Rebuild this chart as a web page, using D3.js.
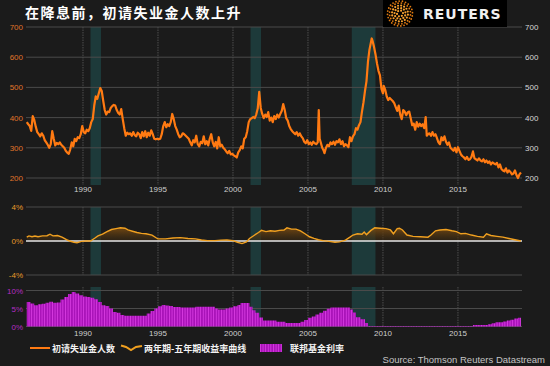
<!DOCTYPE html>
<html>
<head>
<meta charset="utf-8">
<script src="https://cdn.jsdelivr.net/npm/d3@7"></script>
<style>
  html, body { margin: 0; padding: 0; background: #1b1b1b; }
  svg { display: block; font-family: "Liberation Sans", Arial, sans-serif; }
</style>
</head>
<body>
<div id="chart"></div>
<script>
var width = 550,
  height = 366;

// initial jobless claims (thousands), [year, value]
var claims = [
  [1986.25,385],[1986.35,378],[1986.45,372],[1986.55,356],[1986.65,405],[1986.75,392],[1986.85,370],[1986.95,352],
  [1987.05,345],[1987.15,338],[1987.25,348],[1987.35,340],[1987.45,325],[1987.55,318],[1987.65,310],[1987.75,300],
  [1987.85,312],[1987.95,355],[1988.05,330],[1988.15,308],[1988.25,316],[1988.35,312],[1988.45,318],[1988.55,310],
  [1988.65,305],[1988.75,300],[1988.85,290],[1988.95,284],[1989.05,280],[1989.15,295],[1989.25,318],[1989.35,305],
  [1989.45,330],[1989.55,322],[1989.65,335],[1989.75,332],[1989.85,345],[1989.95,372],[1990.05,352],[1990.15,348],
  [1990.25,360],[1990.35,355],[1990.45,365],[1990.55,385],[1990.65,395],[1990.75,440],[1990.85,470],[1990.95,462],
  [1991.05,480],[1991.15,498],[1991.25,488],[1991.35,455],[1991.45,425],[1991.55,410],[1991.65,420],[1991.75,418],
  [1991.85,432],[1991.95,438],[1992.05,442],[1992.15,440],[1992.25,425],[1992.35,415],[1992.45,410],[1992.55,428],
  [1992.65,395],[1992.75,365],[1992.85,340],[1992.95,350],[1993.05,345],[1993.15,348],[1993.25,340],[1993.35,352],
  [1993.45,342],[1993.55,338],[1993.65,350],[1993.75,345],[1993.85,332],[1993.95,352],[1994.05,338],[1994.15,355],
  [1994.25,335],[1994.35,350],[1994.45,340],[1994.55,358],[1994.65,345],[1994.75,330],[1994.85,328],[1994.95,330],
  [1995.05,328],[1995.15,330],[1995.25,345],[1995.35,372],[1995.45,385],[1995.55,368],[1995.65,378],[1995.75,372],
  [1995.85,385],[1995.95,412],[1996.05,395],[1996.15,372],[1996.25,360],[1996.35,345],[1996.45,335],[1996.55,338],
  [1996.65,348],[1996.75,345],[1996.85,340],[1996.95,335],[1997.05,330],[1997.15,318],[1997.25,308],[1997.35,325],
  [1997.45,318],[1997.55,340],[1997.65,312],[1997.75,305],[1997.85,320],[1997.95,315],[1998.05,338],[1998.15,312],
  [1998.25,322],[1998.35,308],[1998.45,330],[1998.55,345],[1998.65,318],[1998.75,305],[1998.85,320],[1998.95,298],
  [1999.05,335],[1999.15,305],[1999.25,310],[1999.35,300],[1999.45,295],[1999.55,288],[1999.65,282],[1999.75,290],
  [1999.85,278],[1999.95,280],[2000.05,275],[2000.15,272],[2000.25,268],[2000.35,285],[2000.45,292],[2000.55,305],
  [2000.65,298],[2000.75,330],[2000.85,335],[2000.95,355],[2001.05,385],[2001.15,395],[2001.25,398],[2001.35,402],
  [2001.45,398],[2001.55,410],[2001.65,430],[2001.75,485],[2001.85,432],[2001.95,412],[2002.05,398],[2002.15,410],
  [2002.25,402],[2002.35,418],[2002.45,390],[2002.55,400],[2002.65,385],[2002.75,405],[2002.85,395],[2002.95,410],
  [2003.05,400],[2003.15,412],[2003.25,422],[2003.35,445],[2003.45,425],[2003.55,398],[2003.65,390],[2003.75,372],
  [2003.85,362],[2003.95,355],[2004.05,350],[2004.15,345],[2004.25,352],[2004.35,340],[2004.45,348],[2004.55,338],
  [2004.65,332],[2004.75,320],[2004.85,315],[2004.95,325],[2005.05,312],[2005.15,318],[2005.25,310],[2005.35,320],
  [2005.45,315],[2005.55,312],[2005.65,318],[2005.72,425],[2005.78,330],[2005.85,318],[2005.95,300],[2006.05,290],
  [2006.1,282],[2006.2,300],[2006.3,310],[2006.4,305],[2006.5,318],[2006.6,312],[2006.7,320],[2006.8,310],
  [2006.9,322],[2007.0,318],[2007.1,328],[2007.2,312],[2007.3,322],[2007.4,305],[2007.5,312],[2007.6,308],
  [2007.7,302],[2007.8,335],[2007.9,322],[2008.0,338],[2008.1,345],[2008.2,365],[2008.3,360],[2008.4,375],
  [2008.5,385],[2008.6,420],[2008.7,450],[2008.8,488],[2008.9,520],[2009.0,585],[2009.1,625],[2009.2,650],
  [2009.25,662],[2009.3,655],[2009.4,635],[2009.5,610],[2009.6,580],[2009.7,555],[2009.8,540],[2009.9,495],
  [2010.0,480],[2010.05,505],[2010.15,492],[2010.25,470],[2010.35,458],[2010.45,465],[2010.55,460],[2010.65,455],
  [2010.75,448],[2010.85,435],[2010.95,422],[2011.05,440],[2011.15,410],[2011.25,395],[2011.35,425],[2011.45,420],
  [2011.55,408],[2011.65,418],[2011.75,420],[2011.85,398],[2011.95,375],[2012.05,380],[2012.15,360],[2012.25,385],
  [2012.35,370],[2012.45,380],[2012.55,372],[2012.65,378],[2012.75,365],[2012.85,402],[2012.92,340],[2013.0,345],
  [2013.1,348],[2013.2,340],[2013.3,352],[2013.4,340],[2013.5,345],[2013.6,332],[2013.7,318],[2013.8,312],
  [2013.9,335],[2014.0,325],[2014.1,338],[2014.2,320],[2014.3,310],[2014.4,318],[2014.5,300],[2014.6,295],
  [2014.7,290],[2014.8,300],[2014.9,285],[2015.0,302],[2015.1,290],[2015.2,278],[2015.3,272],[2015.4,268],
  [2015.5,262],[2015.6,270],[2015.7,260],[2015.8,262],[2015.9,270],[2016.0,288],[2016.1,265],[2016.2,262],
  [2016.3,258],[2016.4,265],[2016.5,258],[2016.6,255],[2016.7,262],[2016.8,252],[2016.9,258],[2017.0,250],
  [2017.1,255],[2017.2,245],[2017.3,252],[2017.4,248],[2017.5,245],[2017.6,250],[2017.7,235],[2017.8,245],
  [2017.9,230],[2018.0,225],[2018.1,222],[2018.2,232],[2018.3,218],[2018.4,225],[2018.5,220],[2018.6,212],
  [2018.7,215],[2018.8,225],[2018.9,210],[2019.0,200],[2019.1,212],[2019.2,218]
];

// 2-year / 5-year yield curve, percent
var spread = [
  [1986.25,0.45],[1986.4,0.6],[1986.6,0.5],[1986.8,0.58],[1987.0,0.5],[1987.3,0.6],[1987.6,0.62],[1987.8,0.8],
  [1988.0,0.6],[1988.3,0.65],[1988.6,0.45],[1988.9,0.15],[1989.1,0.0],[1989.4,-0.15],[1989.6,-0.2],[1989.9,-0.05],
  [1990.2,0.0],[1990.5,0.0],[1990.8,0.35],[1991.0,0.6],[1991.3,0.8],[1991.6,1.1],[1991.9,1.35],[1992.2,1.45],
  [1992.5,1.55],[1992.8,1.5],[1993.0,1.3],[1993.3,1.15],[1993.6,1.0],[1993.9,0.9],[1994.2,0.85],[1994.6,0.7],
  [1994.9,0.35],[1995.0,0.25],[1995.5,0.25],[1996.0,0.35],[1996.5,0.4],[1997.0,0.3],[1997.5,0.25],[1997.9,0.12],
  [1998.3,0.05],[1998.8,0.05],[1999.2,0.1],[1999.6,0.12],[2000.0,0.05],[2000.3,-0.15],[2000.6,-0.3],[2000.9,-0.1],
  [2001.1,0.3],[2001.4,0.65],[2001.7,1.0],[2001.9,1.25],[2002.2,1.1],[2002.5,1.2],[2002.8,1.15],[2003.1,1.25],
  [2003.4,1.3],[2003.6,1.55],[2003.9,1.4],[2004.2,1.4],[2004.5,1.2],[2004.8,0.85],[2005.1,0.5],[2005.4,0.3],
  [2005.7,0.15],[2006.0,0.05],[2006.4,-0.05],[2006.8,-0.15],[2007.1,-0.1],[2007.5,0.1],[2007.8,0.45],[2008.0,0.7],
  [2008.3,0.85],[2008.6,0.8],[2008.75,1.05],[2008.9,0.75],[2009.2,1.25],[2009.45,1.55],[2009.8,1.5],[2010.2,1.45],
  [2010.5,1.3],[2010.7,0.85],[2010.95,1.45],[2011.1,1.5],[2011.3,1.3],[2011.6,0.7],[2012.0,0.55],[2012.5,0.5],
  [2013.0,0.45],[2013.2,0.7],[2013.5,1.2],[2013.8,1.3],[2014.2,1.35],[2014.6,1.2],[2014.9,1.1],[2015.2,0.85],
  [2015.5,0.9],[2015.9,0.7],[2016.3,0.55],[2016.7,0.45],[2016.9,0.85],[2017.2,0.65],[2017.6,0.55],[2018.0,0.45],
  [2018.4,0.3],[2018.8,0.15],[2019.2,0.0]
];

// fed funds rate, percent
var fedFunds = [
  [1986.25,6.8],[1986.5,6.4],[1986.75,5.9],[1987.0,6.2],[1987.25,6.3],[1987.5,6.6],[1987.75,6.9],[1988.0,6.6],
  [1988.25,6.7],[1988.5,7.5],[1988.75,8.2],[1989.0,9.0],[1989.25,9.6],[1989.5,9.2],[1989.75,8.7],[1990.0,8.3],
  [1990.25,8.2],[1990.5,8.0],[1990.75,7.6],[1991.0,6.8],[1991.25,5.9],[1991.5,5.7],[1991.75,5.0],[1992.0,4.0],
  [1992.25,3.8],[1992.5,3.2],[1992.75,3.0],[1993.5,3.0],[1994.0,3.0],[1994.25,3.6],[1994.5,4.3],[1994.75,5.0],
  [1995.0,5.6],[1995.25,6.0],[1995.5,5.8],[1995.75,5.7],[1996.0,5.4],[1996.5,5.3],[1997.0,5.3],[1997.5,5.5],
  [1998.0,5.5],[1998.5,5.5],[1998.8,5.0],[1999.0,4.7],[1999.5,5.0],[1999.75,5.3],[2000.0,5.6],[2000.3,6.0],
  [2000.5,6.5],[2000.9,6.5],[2001.1,5.5],[2001.3,4.5],[2001.5,3.8],[2001.75,2.5],[2002.0,1.7],[2002.5,1.7],
  [2002.9,1.3],[2003.5,1.0],[2004.0,1.0],[2004.5,1.3],[2004.75,1.8],[2005.0,2.4],[2005.25,2.8],[2005.5,3.3],
  [2005.75,3.8],[2006.0,4.4],[2006.25,4.9],[2006.5,5.25],[2007.0,5.25],[2007.6,5.25],[2007.8,4.7],[2008.0,3.9],
  [2008.2,2.6],[2008.5,2.0],[2008.8,1.0],[2009.0,0.15],[2012.0,0.15],[2015.9,0.15],[2016.0,0.4],[2016.9,0.4],
  [2017.0,0.65],[2017.25,0.9],[2017.5,1.15],[2018.0,1.4],[2018.25,1.7],[2018.5,1.9],[2018.75,2.2],[2019.0,2.4],
  [2019.2,2.4]
];

var recessions = [[1990.5, 1991.2], [2001.17, 2001.87], [2007.92, 2009.5]];
var years = [1990, 1995, 2000, 2005, 2010, 2015];
var claimTicks = [200, 300, 400, 500, 600, 700];
var spreadTicks = [-4, 0, 4];
var fedTicks = [0, 5, 10];

var title = '在降息前，初请失业金人数上升';
var legendNames = ['初请失业金人数', '两年期-五年期收益率曲线', '联邦基金利率'];

var x = d3.scaleLinear().domain([1986.2, 2019.27]).range([26, 522]);
var yTop = d3.scaleLinear().domain([200, 700]).range([178, 27]);
var yMid = d3.scaleLinear().domain([-4, 4]).range([275, 207]);
var yBot = d3.scaleLinear().domain([0, 10]).range([326.5, 290.5]);

var svg = d3.select('#chart')
  .append('svg')
  .attr('width', width)
  .attr('height', height);

svg.append('rect')
  .attr('width', width)
  .attr('height', height)
  .attr('fill', '#1b1b1b');

var defs = svg.append('defs');

var grad = defs.append('linearGradient')
  .attr('id', 'spreadFill')
  .attr('gradientUnits', 'userSpaceOnUse')
  .attr('x1', 0).attr('x2', 0)
  .attr('y1', yMid(1.6)).attr('y2', yMid(0));
grad.append('stop').attr('offset', '0%').attr('stop-color', '#7a4c12').attr('stop-opacity', 0.95);
grad.append('stop').attr('offset', '100%').attr('stop-color', '#3a2810').attr('stop-opacity', 0.5);

var stripes = defs.append('pattern')
  .attr('id', 'stripes')
  .attr('patternUnits', 'userSpaceOnUse')
  .attr('width', 2.6)
  .attr('height', 10);
stripes.append('rect').attr('width', 2.6).attr('height', 10).attr('fill', '#a812b8');
stripes.append('rect').attr('width', 0.9).attr('height', 10).attr('fill', '#d63ae0');

// panels: [top, bottom] in pixels
var panels = [[27, 185], [207, 275], [287, 326.5]];

// recession shading
panels.forEach(function (p) {
  svg.append('g')
    .selectAll('rect')
    .data(recessions)
    .enter()
    .append('rect')
    .attr('x', function (d) { return x(d[0]); })
    .attr('width', function (d) { return x(d[1]) - x(d[0]); })
    .attr('y', p[0])
    .attr('height', p[1] - p[0])
    .attr('fill', '#1d3a3a');
});

// vertical year gridlines
panels.forEach(function (p) {
  svg.append('g')
    .selectAll('line')
    .data(years)
    .enter()
    .append('line')
    .attr('x1', function (d) { return x(d); })
    .attr('x2', function (d) { return x(d); })
    .attr('y1', p[0])
    .attr('y2', p[1])
    .attr('stroke', '#5a5a5a')
    .attr('stroke-width', 0.8)
    .attr('stroke-dasharray', '1.5,1');
});

// horizontal gridlines
function hgrid(ticks, y, color) {
  svg.append('g')
    .selectAll('line')
    .data(ticks)
    .enter()
    .append('line')
    .attr('x1', 26)
    .attr('x2', 522)
    .attr('y1', function (d) { return y(d); })
    .attr('y2', function (d) { return y(d); })
    .attr('stroke', color || '#4a4a4a')
    .attr('stroke-width', 1);
}
hgrid(claimTicks, yTop);
hgrid([-4, 4], yMid);
hgrid(fedTicks, yBot);

// left / right tick labels
function leftLabels(ticks, y, color, fmt) {
  svg.append('g')
    .selectAll('text')
    .data(ticks)
    .enter()
    .append('text')
    .attr('x', 23)
    .attr('y', function (d) { return y(d) + 3; })
    .attr('text-anchor', 'end')
    .attr('font-size', 8)
    .attr('fill', color)
    .text(fmt);
}
leftLabels(claimTicks, yTop, '#e0742a', function (d) { return d; });
leftLabels(spreadTicks, yMid, '#e89a2a', function (d) { return d + '%'; });
leftLabels(fedTicks, yBot, '#b52cc4', function (d) { return d + '%'; });

svg.append('g')
  .selectAll('text')
  .data(claimTicks)
  .enter()
  .append('text')
  .attr('x', 525)
  .attr('y', function (d) { return yTop(d) + 3; })
  .attr('font-size', 8)
  .attr('fill', '#d8d8d8')
  .text(function (d) { return d; });

// year labels
[192, 336].forEach(function (ty) {
  svg.append('g')
    .selectAll('text')
    .data(years)
    .enter()
    .append('text')
    .attr('x', function (d) { return x(d); })
    .attr('y', ty)
    .attr('text-anchor', 'middle')
    .attr('font-size', 8)
    .attr('fill', '#cfcfcf')
    .text(function (d) { return d; });
});

// fed funds bars
svg.append('path')
  .datum(fedFunds)
  .attr('d', d3.area()
    .curve(d3.curveStepAfter)
    .x(function (d) { return x(d[0]); })
    .y0(yBot(0))
    .y1(function (d) { return yBot(d[1]); }))
  .attr('fill', 'url(#stripes)');

// yield curve
svg.append('path')
  .datum(spread)
  .attr('d', d3.area()
    .x(function (d) { return x(d[0]); })
    .y0(yMid(0))
    .y1(function (d) { return yMid(d[1]); }))
  .attr('fill', 'url(#spreadFill)');

svg.append('line')
  .attr('x1', 26).attr('x2', 522)
  .attr('y1', yMid(0)).attr('y2', yMid(0))
  .attr('stroke', '#e6e6e6')
  .attr('stroke-width', 1.3);

svg.append('path')
  .datum(spread)
  .attr('d', d3.line()
    .x(function (d) { return x(d[0]); })
    .y(function (d) { return yMid(d[1]); }))
  .attr('fill', 'none')
  .attr('stroke', '#f0a020')
  .attr('stroke-width', 1.4);

// jobless claims
svg.append('path')
  .datum(claims)
  .attr('d', d3.line()
    .x(function (d) { return x(d[0]); })
    .y(function (d) { return yTop(d[1]); }))
  .attr('fill', 'none')
  .attr('stroke', '#ff7a12')
  .attr('stroke-width', 2.2)
  .attr('stroke-linejoin', 'round');

// title
svg.append('text')
  .attr('x', 25)
  .attr('y', 18)
  .attr('font-family', '"Noto Sans CJK SC", sans-serif')
  .attr('font-weight', 'bold')
  .attr('font-size', 14)
  .attr('letter-spacing', 1.5)
  .attr('fill', '#ffffff')
  .text(title);

// Reuters logo
var logo = svg.append('g');
logo.append('rect')
  .attr('x', 383).attr('y', 0)
  .attr('width', 124).attr('height', 27)
  .attr('fill', '#000');
[[3, 6], [5.5, 11], [8, 16], [10.5, 20], [12.5, 24]].forEach(function (r) {
  d3.range(r[1]).forEach(function (i) {
    var a = i / r[1] * 2 * Math.PI + r[0];
    logo.append('circle')
      .attr('cx', 400 + r[0] * Math.cos(a))
      .attr('cy', 13.5 + r[0] * Math.sin(a))
      .attr('r', r[0] > 9 ? 0.9 : 1.1)
      .attr('fill', r[0] > 9 ? '#e07a10' : '#f5a030');
  });
});
logo.append('text')
  .attr('x', 423)
  .attr('y', 19)
  .attr('font-family', '"DejaVu Sans", sans-serif')
  .attr('font-weight', 'bold')
  .attr('font-size', 14)
  .attr('letter-spacing', 1)
  .attr('fill', '#f0f0f0')
  .text('REUTERS');

// legend
var lg = svg.append('g').attr('font-family', '"Noto Sans CJK SC", sans-serif')
  .attr('font-weight', 'bold').attr('font-size', 9).attr('fill', '#f2f2f2');
lg.append('line')
  .attr('x1', 30).attr('x2', 50).attr('y1', 348).attr('y2', 348)
  .attr('stroke', '#ff7a12').attr('stroke-width', 2);
lg.append('text').attr('x', 52).attr('y', 351.5).text(legendNames[0]);
lg.append('path')
  .attr('d', 'M121,345.5 L126,347 L131,350 L136,347 L142,346')
  .attr('fill', 'none').attr('stroke', '#f0a020').attr('stroke-width', 2);
lg.append('text').attr('x', 144).attr('y', 351.5).text(legendNames[1]);
lg.append('rect')
  .attr('x', 260).attr('y', 344).attr('width', 22).attr('height', 8)
  .attr('fill', 'url(#stripes)');
lg.append('text').attr('x', 290).attr('y', 351.5).text(legendNames[2]);

svg.append('text')
  .attr('x', 545)
  .attr('y', 363)
  .attr('text-anchor', 'end')
  .attr('font-size', 9.5)
  .attr('fill', '#c4c4c4')
  .text('Source: Thomson Reuters Datastream');
</script>
</body>
</html>
